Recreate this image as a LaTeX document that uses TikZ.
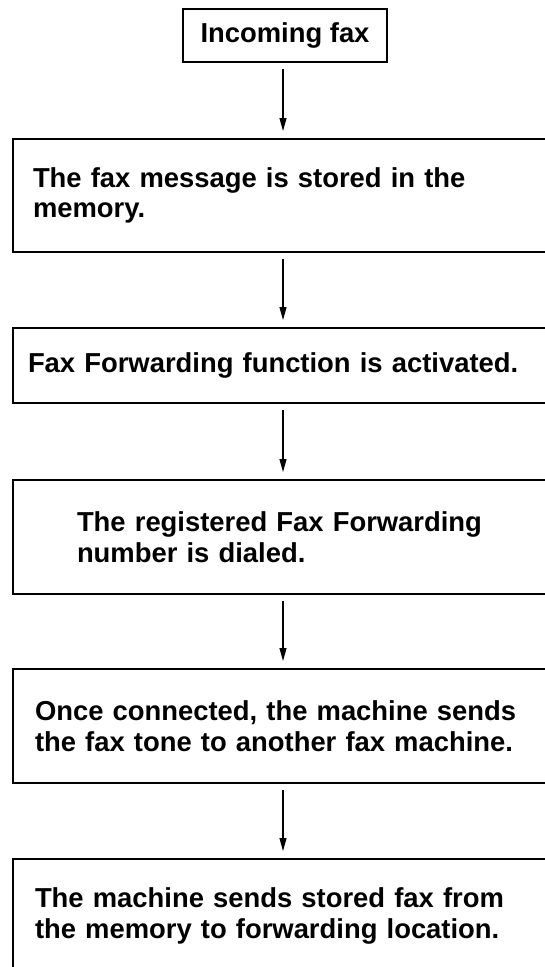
\documentclass[tikz,border=0pt]{standalone}
\usepackage{fontspec}
\setmainfont{Liberation Sans}
\usetikzlibrary{arrows.meta}
\begin{document}
\begin{tikzpicture}[x=1pt,y=1pt,
  box/.style={draw, line width=2pt, outer sep=0pt, anchor=north west, align=left,
    inner ysep=0pt, font=\bfseries\fontsize{27.4}{30.5}\selectfont},
  arr/.style={-{Triangle[length=13pt,width=7pt]}, line width=1.2pt,
    shorten <=7pt, shorten >=8pt}]
\useasboundingbox (0,0) rectangle (545,-967);
\clip (0,0) rectangle (545,-967);
\node[box, anchor=center, minimum width=204pt, minimum height=53pt, inner xsep=0pt]
  (in) at (285,-35.5) {Incoming fax};
\node[box, inner xsep=20pt, text width=500pt, minimum height=113pt]
  (b2) at (13,-139) {The fax message is stored in the\\memory.};
\node[box, inner xsep=15pt, text width=510pt, minimum height=75pt]
  (b3) at (13,-328) {Fax Forwarding function is activated.};
\node[box, inner xsep=64pt, text width=412pt, minimum height=114pt]
  (b4) at (13,-480) {The registered Fax Forwarding\\number is dialed.};
\node[box, inner xsep=22pt, text width=496pt, minimum height=114pt]
  (b5) at (13,-669) {Once connected, the machine sends\\the fax tone to another fax machine.};
\node[box, inner xsep=22pt, text width=496pt, minimum height=114pt]
  (b6) at (13,-859) {The machine sends stored fax from\\the memory to forwarding location.};
\draw[arr] (in.south -| b2.north) -- (b2.north);
\draw[arr] (b2.south) -- (b3.north);
\draw[arr] (b3.south) -- (b4.north);
\draw[arr] (b4.south) -- (b5.north);
\draw[arr] (b5.south) -- (b6.north);
\end{tikzpicture}
\end{document}
